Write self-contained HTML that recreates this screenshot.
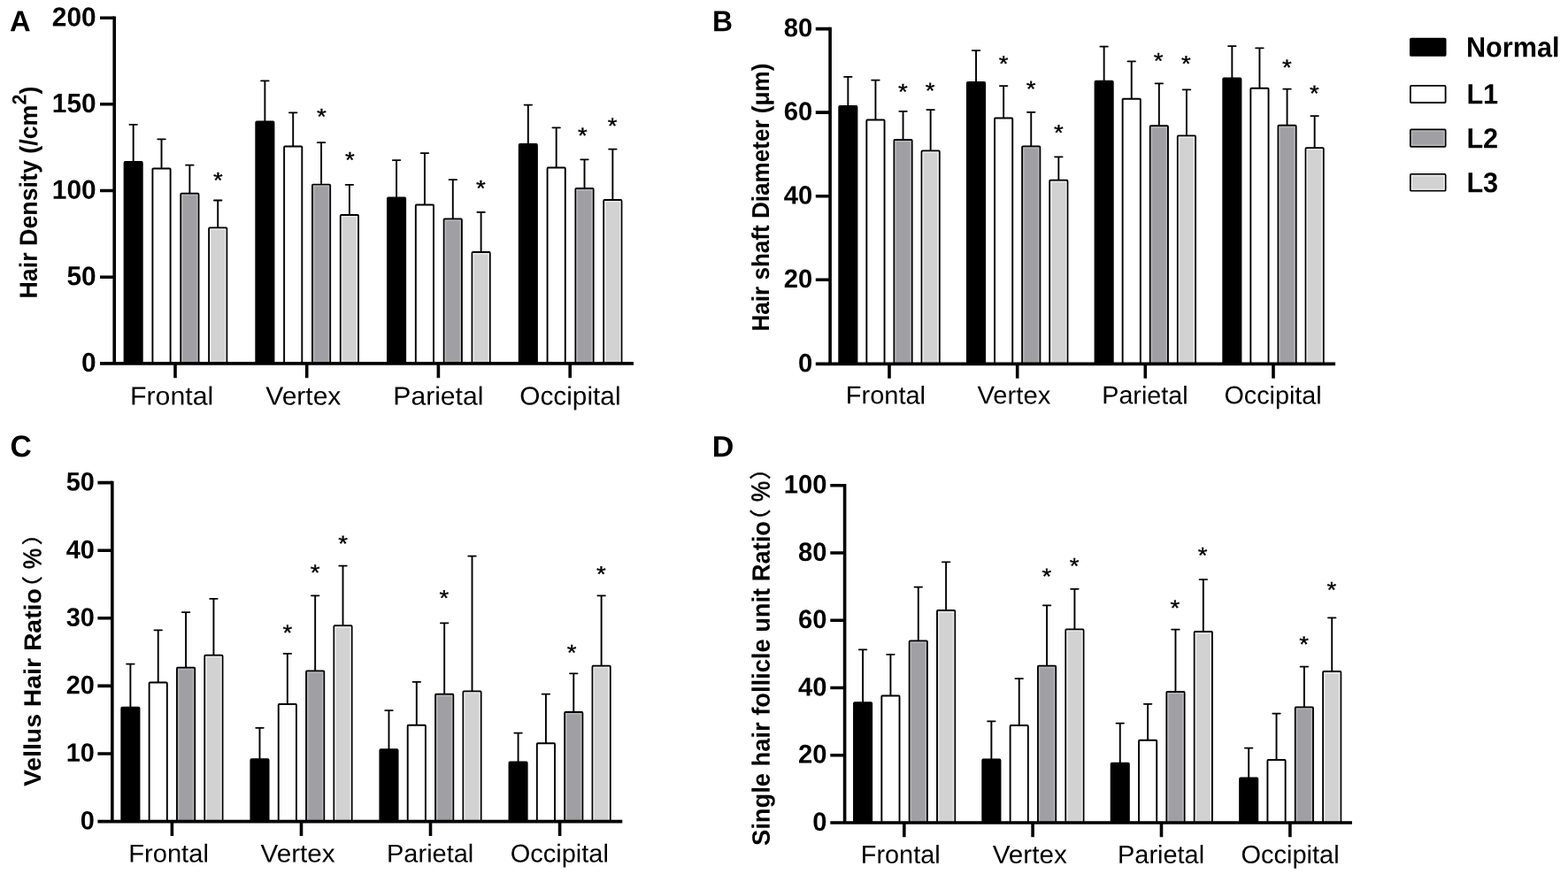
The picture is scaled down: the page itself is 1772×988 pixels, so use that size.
<!DOCTYPE html>
<html lang="en">
<head>
<meta charset="utf-8">
<title>Hair Density, Hair shaft Diameter, Vellus Hair Ratio, Single hair follicle unit Ratio</title>
<style>
html,body{margin:0;padding:0;background:#fff;}
body{width:1772px;height:988px;overflow:hidden;}
svg{display:block;}
text{font-family:"Liberation Sans","Noto Sans CJK SC",sans-serif;fill:#000;}
.pl,.yl,.tk,.lt{font-weight:bold;}
.yp{font-family:"Noto Sans CJK SC","Liberation Sans",sans-serif;font-weight:normal;stroke:#000;stroke-width:0.55;}
.ypc{stroke:#000;stroke-width:0.7;}
.axis{stroke:#000;stroke-width:3.6;fill:none;}
.bar{stroke:#000;stroke-width:1.9;stroke-linejoin:round;}
.lb{stroke:#000;stroke-width:1.8;stroke-linejoin:round;}
.err{stroke:#000;stroke-width:1.9;fill:none;stroke-linecap:round;}
.band{fill:none;stroke-width:1.5;}
.st{stroke:#000;stroke-width:0.35;}
</style>
</head>
<body>
<svg width="1772" height="988" viewBox="0 0 1772 988">
<rect width="1772" height="988" fill="#fff"/>
<g id="panel-A">
<text class="pl" font-size="33" transform="translate(10.99 35.2) rotate(0.03) scale(0.9919 1)">A</text>
<text class="yl" font-size="28.02" transform="translate(41.8 337.48) rotate(-89.97) scale(0.9570 1)">Hair Density (/cm<tspan font-size="22.41" dy="-12.33">2</tspan><tspan font-size="28.02" dy="12.33">)</tspan></text>
<g>
<path class="err" d="M146.42 140.85H154.92M150.67 140.85V183.05"/>
<rect class="bar" x="140.57" y="183.05" width="20.2" height="227.85" rx="0.9" fill="#000000"/>
<path class="err" d="M178.27 157.35H186.77M182.52 157.35V190.55"/>
<rect class="bar" x="172.42" y="190.55" width="20.2" height="220.35" rx="0.9" fill="#ffffff"/>
<path class="err" d="M210.12 186.65H218.62M214.38 186.65V218.75"/>
<rect class="bar" x="204.28" y="218.75" width="20.2" height="192.15" rx="0.9" fill="#a0a0a4"/>
<rect class="band" x="205.97" y="220.45" width="16.8" height="190.45" stroke="#b6b6ba"/>
<path class="err" d="M241.97 226.55H250.47M246.22 226.55V257.55"/>
<rect class="bar" x="236.12" y="257.55" width="20.2" height="153.35" rx="0.9" fill="#d2d2d2"/>
<rect class="band" x="237.82" y="259.25" width="16.8" height="151.65" stroke="#e8e8e8"/>
</g>
<g>
<path class="err" d="M295.12 91.35H303.62M299.38 91.35V137.55"/>
<rect class="bar" x="289.27" y="137.55" width="20.2" height="273.35" rx="0.9" fill="#000000"/>
<path class="err" d="M326.97 127.35H335.47M331.22 127.35V165.55"/>
<rect class="bar" x="321.12" y="165.55" width="20.2" height="245.35" rx="0.9" fill="#ffffff"/>
<path class="err" d="M358.82 161.15H367.32M363.07 161.15V208.65"/>
<rect class="bar" x="352.97" y="208.65" width="20.2" height="202.25" rx="0.9" fill="#a0a0a4"/>
<rect class="band" x="354.67" y="210.35" width="16.8" height="200.55" stroke="#b6b6ba"/>
<path class="err" d="M390.67 208.85H399.17M394.92 208.85V243.05"/>
<rect class="bar" x="384.82" y="243.05" width="20.2" height="167.85" rx="0.9" fill="#d2d2d2"/>
<rect class="band" x="386.52" y="244.75" width="16.8" height="166.15" stroke="#e8e8e8"/>
</g>
<g>
<path class="err" d="M443.83 181.1H452.33M448.08 181.1V223.55"/>
<rect class="bar" x="437.98" y="223.55" width="20.2" height="187.35" rx="0.9" fill="#000000"/>
<path class="err" d="M475.68 173.1H484.18M479.93 173.1V231.55"/>
<rect class="bar" x="469.82" y="231.55" width="20.2" height="179.35" rx="0.9" fill="#ffffff"/>
<path class="err" d="M507.53 203.1H516.03M511.78 203.1V247.55"/>
<rect class="bar" x="501.68" y="247.55" width="20.2" height="163.35" rx="0.9" fill="#a0a0a4"/>
<rect class="band" x="503.38" y="249.25" width="16.8" height="161.65" stroke="#b6b6ba"/>
<path class="err" d="M539.38 239.85H547.88M543.62 239.85V285.05"/>
<rect class="bar" x="533.52" y="285.05" width="20.2" height="125.85" rx="0.9" fill="#d2d2d2"/>
<rect class="band" x="535.23" y="286.75" width="16.8" height="124.15" stroke="#e8e8e8"/>
</g>
<g>
<path class="err" d="M592.58 118.6H601.08M596.83 118.6V163.05"/>
<rect class="bar" x="586.73" y="163.05" width="20.2" height="247.85" rx="0.9" fill="#000000"/>
<path class="err" d="M624.43 144.35H632.93M628.68 144.35V189.55"/>
<rect class="bar" x="618.58" y="189.55" width="20.2" height="221.35" rx="0.9" fill="#ffffff"/>
<path class="err" d="M656.27 180.35H664.77M660.52 180.35V213.05"/>
<rect class="bar" x="650.42" y="213.05" width="20.2" height="197.85" rx="0.9" fill="#a0a0a4"/>
<rect class="band" x="652.12" y="214.75" width="16.8" height="196.15" stroke="#b6b6ba"/>
<path class="err" d="M688.12 168.6H696.62M692.38 168.6V226.05"/>
<rect class="bar" x="682.27" y="226.05" width="20.2" height="184.85" rx="0.9" fill="#d2d2d2"/>
<rect class="band" x="683.98" y="227.75" width="16.8" height="183.15" stroke="#e8e8e8"/>
</g>
<text class="st" font-size="25.6" transform="translate(240.97 212.4) rotate(0.03) scale(1.0761 1)">*</text>
<text class="st" font-size="25.6" transform="translate(358.12 140.5) rotate(0.03) scale(1.0761 1)">*</text>
<text class="st" font-size="25.6" transform="translate(390.12 189.4) rotate(0.03) scale(1.0761 1)">*</text>
<text class="st" font-size="25.6" transform="translate(538.12 221.6) rotate(0.03) scale(1.0761 1)">*</text>
<text class="st" font-size="25.6" transform="translate(653.12 162.1) rotate(0.03) scale(1.0761 1)">*</text>
<text class="st" font-size="25.6" transform="translate(686.87 151.1) rotate(0.03) scale(1.0761 1)">*</text>
<path class="axis" d="M129.2 18.5V410.9M113 410.9H716"/>
<path class="axis" d="M113 313.2H129.2M113 215.5H129.2M113 117.8H129.2M113 20.3H129.2M198 410.9V427.3M346.7 410.9V427.3M495.4 410.9V427.3M644.2 410.9V427.3"/>
<text class="tk" font-size="30.47" transform="translate(92.05 420.07) rotate(0.03) scale(0.9805 1)">0</text>
<text class="tk" font-size="30.47" transform="translate(75.43 322.37) rotate(0.03) scale(0.9805 1)">50</text>
<text class="tk" font-size="30.47" transform="translate(58.82 224.67) rotate(0.03) scale(0.9805 1)">100</text>
<text class="tk" font-size="30.47" transform="translate(58.82 126.97) rotate(0.03) scale(0.9805 1)">150</text>
<text class="tk" font-size="30.47" transform="translate(58.82 29.47) rotate(0.03) scale(0.9805 1)">200</text>
<text class="xl" font-size="29.07" transform="translate(146.93 457.45) rotate(0.03) scale(1.0426 1)">Frontal</text>
<text class="xl" font-size="29.07" transform="translate(300.3 457.45) rotate(0.03) scale(1.0327 1)">Vertex</text>
<text class="xl" font-size="29.07" transform="translate(444.35 457.45) rotate(0.03) scale(1.0353 1)">Parietal</text>
<text class="xl" font-size="29.07" transform="translate(587.2 457.45) rotate(0.03) scale(1.0261 1)">Occipital</text>
</g>
<g id="panel-B">
<text class="pl" font-size="33.14" transform="translate(805.01 35.3) rotate(0.03) scale(0.9608 1)">B</text>
<text class="yl" font-size="27.45" transform="translate(868.9 374.53) rotate(-89.97) scale(0.9503 1)">Hair shaft Diameter (μm)</text>
<g>
<path class="err" d="M954.1 86.85H962.6M958.35 86.85V120.05"/>
<rect class="bar" x="948.25" y="120.05" width="20.2" height="291.35" rx="0.9" fill="#000000"/>
<path class="err" d="M985.2 90.6H993.7M989.45 90.6V135.55"/>
<rect class="bar" x="979.35" y="135.55" width="20.2" height="275.85" rx="0.9" fill="#ffffff"/>
<path class="err" d="M1016.3 125.85H1024.8M1020.55 125.85V158.05"/>
<rect class="bar" x="1010.45" y="158.05" width="20.2" height="253.35" rx="0.9" fill="#a0a0a4"/>
<rect class="band" x="1012.15" y="159.75" width="16.8" height="251.65" stroke="#b6b6ba"/>
<path class="err" d="M1047.4 124.1H1055.9M1051.65 124.1V170.55"/>
<rect class="bar" x="1041.55" y="170.55" width="20.2" height="240.85" rx="0.9" fill="#d2d2d2"/>
<rect class="band" x="1043.25" y="172.25" width="16.8" height="239.15" stroke="#e8e8e8"/>
</g>
<g>
<path class="err" d="M1098.8 57.1H1107.3M1103.05 57.1V93.05"/>
<rect class="bar" x="1092.95" y="93.05" width="20.2" height="318.35" rx="0.9" fill="#000000"/>
<path class="err" d="M1129.9 97.1H1138.4M1134.15 97.1V133.55"/>
<rect class="bar" x="1124.05" y="133.55" width="20.2" height="277.85" rx="0.9" fill="#ffffff"/>
<path class="err" d="M1161 126.85H1169.5M1165.25 126.85V165.55"/>
<rect class="bar" x="1155.15" y="165.55" width="20.2" height="245.85" rx="0.9" fill="#a0a0a4"/>
<rect class="band" x="1156.85" y="167.25" width="16.8" height="244.15" stroke="#b6b6ba"/>
<path class="err" d="M1192.1 177.35H1200.6M1196.35 177.35V203.8"/>
<rect class="bar" x="1186.25" y="203.8" width="20.2" height="207.6" rx="0.9" fill="#d2d2d2"/>
<rect class="band" x="1187.95" y="205.5" width="16.8" height="205.9" stroke="#e8e8e8"/>
</g>
<g>
<path class="err" d="M1243.4 52.6H1251.9M1247.65 52.6V91.8"/>
<rect class="bar" x="1237.55" y="91.8" width="20.2" height="319.6" rx="0.9" fill="#000000"/>
<path class="err" d="M1274.5 69.35H1283M1278.75 69.35V111.8"/>
<rect class="bar" x="1268.65" y="111.8" width="20.2" height="299.6" rx="0.9" fill="#ffffff"/>
<path class="err" d="M1305.6 94.35H1314.1M1309.85 94.35V142.3"/>
<rect class="bar" x="1299.75" y="142.3" width="20.2" height="269.1" rx="0.9" fill="#a0a0a4"/>
<rect class="band" x="1301.45" y="144" width="16.8" height="267.4" stroke="#b6b6ba"/>
<path class="err" d="M1336.7 101.35H1345.2M1340.95 101.35V153.55"/>
<rect class="bar" x="1330.85" y="153.55" width="20.2" height="257.85" rx="0.9" fill="#d2d2d2"/>
<rect class="band" x="1332.55" y="155.25" width="16.8" height="256.15" stroke="#e8e8e8"/>
</g>
<g>
<path class="err" d="M1388.1 52.1H1396.6M1392.35 52.1V88.55"/>
<rect class="bar" x="1382.25" y="88.55" width="20.2" height="322.85" rx="0.9" fill="#000000"/>
<path class="err" d="M1419.2 54.35H1427.7M1423.45 54.35V99.8"/>
<rect class="bar" x="1413.35" y="99.8" width="20.2" height="311.6" rx="0.9" fill="#ffffff"/>
<path class="err" d="M1450.3 100.6H1458.8M1454.55 100.6V141.8"/>
<rect class="bar" x="1444.45" y="141.8" width="20.2" height="269.6" rx="0.9" fill="#a0a0a4"/>
<rect class="band" x="1446.15" y="143.5" width="16.8" height="267.9" stroke="#b6b6ba"/>
<path class="err" d="M1481.4 131.1H1489.9M1485.65 131.1V167.3"/>
<rect class="bar" x="1475.55" y="167.3" width="20.2" height="244.1" rx="0.9" fill="#d2d2d2"/>
<rect class="band" x="1477.25" y="169" width="16.8" height="242.4" stroke="#e8e8e8"/>
</g>
<text class="st" font-size="25.6" transform="translate(1015.12 112.6) rotate(0.03) scale(1.0761 1)">*</text>
<text class="st" font-size="25.6" transform="translate(1045.87 111.35) rotate(0.03) scale(1.0761 1)">*</text>
<text class="st" font-size="25.6" transform="translate(1128.87 80.85) rotate(0.03) scale(1.0761 1)">*</text>
<text class="st" font-size="25.6" transform="translate(1159.87 109.35) rotate(0.03) scale(1.0761 1)">*</text>
<text class="st" font-size="25.6" transform="translate(1191.12 158.85) rotate(0.03) scale(1.0761 1)">*</text>
<text class="st" font-size="25.6" transform="translate(1303.87 77.6) rotate(0.03) scale(1.0761 1)">*</text>
<text class="st" font-size="25.6" transform="translate(1335.12 80.85) rotate(0.03) scale(1.0761 1)">*</text>
<text class="st" font-size="25.6" transform="translate(1449.12 85.1) rotate(0.03) scale(1.0761 1)">*</text>
<text class="st" font-size="25.6" transform="translate(1480.12 114.35) rotate(0.03) scale(1.0761 1)">*</text>
<path class="axis" d="M938.1 30.8V411.4M921.8 411.4H1509.1"/>
<path class="axis" d="M921.8 316.3H938.1M921.8 221.7H938.1M921.8 127.1H938.1M921.8 32.6H938.1M1005 411.4V427.7M1149.7 411.4V427.7M1294.3 411.4V427.7M1439 411.4V427.7"/>
<text class="tk" font-size="29.22" transform="translate(902.04 420.14) rotate(0.03) scale(1.0000 1)">0</text>
<text class="tk" font-size="29.22" transform="translate(885.79 325.04) rotate(0.03) scale(1.0000 1)">20</text>
<text class="tk" font-size="29.22" transform="translate(885.79 230.44) rotate(0.03) scale(1.0000 1)">40</text>
<text class="tk" font-size="29.22" transform="translate(885.79 135.84) rotate(0.03) scale(1.0000 1)">60</text>
<text class="tk" font-size="29.22" transform="translate(885.79 41.34) rotate(0.03) scale(1.0000 1)">80</text>
<text class="xl" font-size="28.27" transform="translate(955.73 456.36) rotate(0.03) scale(1.0274 1)">Frontal</text>
<text class="xl" font-size="28.27" transform="translate(1104.4 456.36) rotate(0.03) scale(1.0345 1)">Vertex</text>
<text class="xl" font-size="28.27" transform="translate(1245.26 456.36) rotate(0.03) scale(1.0156 1)">Parietal</text>
<text class="xl" font-size="28.27" transform="translate(1383.45 456.36) rotate(0.03) scale(1.0171 1)">Occipital</text>
</g>
<g id="panel-C">
<text class="pl" font-size="34.37" transform="translate(11.45 516.36) rotate(0.03) scale(0.9788 1)">C</text>
<text class="yl" font-size="27.09" transform="translate(46.05 889.1) rotate(-89.97) scale(1.0478 1)">Vellus Hair Ratio</text>
<text class="yp" font-size="23.33" transform="translate(45.05 677.34) rotate(-89.97) scale(1.1126 1)">（</text>
<text class="ypc" font-size="28.38" transform="translate(46.26 643.22) rotate(-89.97) scale(0.9232 1)">%</text>
<text class="yp" font-size="23.33" transform="translate(45.05 616.2) rotate(-89.97) scale(1.0973 1)">）</text>
<g>
<path class="err" d="M143.12 750.6H151.62M147.38 750.6V799.8"/>
<rect class="bar" x="137.28" y="799.8" width="20.2" height="128.8" rx="0.9" fill="#000000"/>
<path class="err" d="M174.47 712.35H182.97M178.72 712.35V771.55"/>
<rect class="bar" x="168.62" y="771.55" width="20.2" height="157.05" rx="0.9" fill="#ffffff"/>
<path class="err" d="M205.83 692.1H214.33M210.08 692.1V754.8"/>
<rect class="bar" x="199.98" y="754.8" width="20.2" height="173.8" rx="0.9" fill="#a0a0a4"/>
<rect class="band" x="201.68" y="756.5" width="16.8" height="172.1" stroke="#b6b6ba"/>
<path class="err" d="M237.18 676.85H245.68M241.43 676.85V740.8"/>
<rect class="bar" x="231.33" y="740.8" width="20.2" height="187.8" rx="0.9" fill="#d2d2d2"/>
<rect class="band" x="233.03" y="742.5" width="16.8" height="186.1" stroke="#e8e8e8"/>
</g>
<g>
<path class="err" d="M289.23 822.85H297.73M293.48 822.85V858.3"/>
<rect class="bar" x="283.38" y="858.3" width="20.2" height="70.3" rx="0.9" fill="#000000"/>
<path class="err" d="M320.57 738.85H329.07M324.82 738.85V796.05"/>
<rect class="bar" x="314.72" y="796.05" width="20.2" height="132.55" rx="0.9" fill="#ffffff"/>
<path class="err" d="M351.93 673.35H360.43M356.18 673.35V758.55"/>
<rect class="bar" x="346.07" y="758.55" width="20.2" height="170.05" rx="0.9" fill="#a0a0a4"/>
<rect class="band" x="347.77" y="760.25" width="16.8" height="168.35" stroke="#b6b6ba"/>
<path class="err" d="M383.27 639.6H391.77M387.52 639.6V707.3"/>
<rect class="bar" x="377.42" y="707.3" width="20.2" height="221.3" rx="0.9" fill="#d2d2d2"/>
<rect class="band" x="379.12" y="709" width="16.8" height="219.6" stroke="#e8e8e8"/>
</g>
<g>
<path class="err" d="M435.23 803.1H443.73M439.48 803.1V847.3"/>
<rect class="bar" x="429.38" y="847.3" width="20.2" height="81.3" rx="0.9" fill="#000000"/>
<path class="err" d="M466.57 770.85H475.07M470.82 770.85V819.8"/>
<rect class="bar" x="460.72" y="819.8" width="20.2" height="108.8" rx="0.9" fill="#ffffff"/>
<path class="err" d="M497.93 704.35H506.43M502.18 704.35V784.8"/>
<rect class="bar" x="492.07" y="784.8" width="20.2" height="143.8" rx="0.9" fill="#a0a0a4"/>
<rect class="band" x="493.77" y="786.5" width="16.8" height="142.1" stroke="#b6b6ba"/>
<path class="err" d="M529.27 628.6H537.77M533.52 628.6V781.55"/>
<rect class="bar" x="523.42" y="781.55" width="20.2" height="147.05" rx="0.9" fill="#d2d2d2"/>
<rect class="band" x="525.12" y="783.25" width="16.8" height="145.35" stroke="#e8e8e8"/>
</g>
<g>
<path class="err" d="M581.33 828.6H589.83M585.58 828.6V861.55"/>
<rect class="bar" x="575.48" y="861.55" width="20.2" height="67.05" rx="0.9" fill="#000000"/>
<path class="err" d="M612.68 784.6H621.18M616.93 784.6V840.3"/>
<rect class="bar" x="606.83" y="840.3" width="20.2" height="88.3" rx="0.9" fill="#ffffff"/>
<path class="err" d="M644.02 761.35H652.52M648.27 761.35V805.05"/>
<rect class="bar" x="638.17" y="805.05" width="20.2" height="123.55" rx="0.9" fill="#a0a0a4"/>
<rect class="band" x="639.88" y="806.75" width="16.8" height="121.85" stroke="#b6b6ba"/>
<path class="err" d="M675.38 673.35H683.88M679.62 673.35V752.8"/>
<rect class="bar" x="669.52" y="752.8" width="20.2" height="175.8" rx="0.9" fill="#d2d2d2"/>
<rect class="band" x="671.23" y="754.5" width="16.8" height="174.1" stroke="#e8e8e8"/>
</g>
<text class="st" font-size="25.6" transform="translate(319.62 724.1) rotate(0.03) scale(1.0761 1)">*</text>
<text class="st" font-size="25.6" transform="translate(350.87 656.1) rotate(0.03) scale(1.0761 1)">*</text>
<text class="st" font-size="25.6" transform="translate(382.37 623.35) rotate(0.03) scale(1.0761 1)">*</text>
<text class="st" font-size="25.6" transform="translate(496.62 684.85) rotate(0.03) scale(1.0761 1)">*</text>
<text class="st" font-size="25.6" transform="translate(640.87 746.6) rotate(0.03) scale(1.0761 1)">*</text>
<text class="st" font-size="25.6" transform="translate(674.12 657.85) rotate(0.03) scale(1.0761 1)">*</text>
<path class="axis" d="M126.8 543.85V928.6M110.4 928.6H703.3"/>
<path class="axis" d="M110.4 852H126.8M110.4 775.4H126.8M110.4 698.8H126.8M110.4 622.3H126.8M110.4 545.65H126.8M194.4 928.6V944.9M340.5 928.6V944.9M486.5 928.6V944.9M632.6 928.6V944.9"/>
<text class="tk" font-size="29.5" transform="translate(90.81 937.44) rotate(0.03) scale(0.9791 1)">0</text>
<text class="tk" font-size="29.5" transform="translate(74.75 860.84) rotate(0.03) scale(0.9791 1)">10</text>
<text class="tk" font-size="29.5" transform="translate(74.75 784.24) rotate(0.03) scale(0.9791 1)">20</text>
<text class="tk" font-size="29.5" transform="translate(74.75 707.64) rotate(0.03) scale(0.9791 1)">30</text>
<text class="tk" font-size="29.5" transform="translate(74.75 631.14) rotate(0.03) scale(0.9791 1)">40</text>
<text class="tk" font-size="29.5" transform="translate(74.75 554.49) rotate(0.03) scale(0.9791 1)">50</text>
<text class="xl" font-size="28.53" transform="translate(145.22 974.45) rotate(0.03) scale(1.0213 1)">Frontal</text>
<text class="xl" font-size="28.53" transform="translate(294.5 974.45) rotate(0.03) scale(1.0397 1)">Vertex</text>
<text class="xl" font-size="28.53" transform="translate(437.04 974.45) rotate(0.03) scale(1.0158 1)">Parietal</text>
<text class="xl" font-size="28.53" transform="translate(576.64 974.45) rotate(0.03) scale(1.0170 1)">Occipital</text>
</g>
<g id="panel-D">
<text class="pl" font-size="33.56" transform="translate(804.67 516.3) rotate(0.03) scale(1.0154 1)">D</text>
<text class="yl" font-size="28.16" transform="translate(869.7 955.93) rotate(-89.97) scale(0.9696 1)">Single hair follicle unit Ratio</text>
<text class="yp" font-size="23.85" transform="translate(868.09 601.44) rotate(-89.97) scale(1.0885 1)">（</text>
<text class="ypc" font-size="28.94" transform="translate(869.55 567.22) rotate(-89.97) scale(0.9055 1)">%</text>
<text class="yp" font-size="23.85" transform="translate(868.09 542.2) rotate(-89.97) scale(1.0736 1)">）</text>
<g>
<path class="err" d="M970.83 734.35H979.33M975.08 734.35V794.3"/>
<rect class="bar" x="964.98" y="794.3" width="20.2" height="135.7" rx="0.9" fill="#000000"/>
<path class="err" d="M1002.18 739.85H1010.68M1006.43 739.85V786.55"/>
<rect class="bar" x="996.33" y="786.55" width="20.2" height="143.45" rx="0.9" fill="#ffffff"/>
<path class="err" d="M1033.53 663.6H1042.03M1037.78 663.6V724.55"/>
<rect class="bar" x="1027.68" y="724.55" width="20.2" height="205.45" rx="0.9" fill="#a0a0a4"/>
<rect class="band" x="1029.38" y="726.25" width="16.8" height="203.75" stroke="#b6b6ba"/>
<path class="err" d="M1064.88 635.35H1073.38M1069.12 635.35V690.05"/>
<rect class="bar" x="1059.03" y="690.05" width="20.2" height="239.95" rx="0.9" fill="#d2d2d2"/>
<rect class="band" x="1060.73" y="691.75" width="16.8" height="238.25" stroke="#e8e8e8"/>
</g>
<g>
<path class="err" d="M1116.12 815.35H1124.62M1120.38 815.35V858.55"/>
<rect class="bar" x="1110.28" y="858.55" width="20.2" height="71.45" rx="0.9" fill="#000000"/>
<path class="err" d="M1147.48 767.1H1155.98M1151.73 767.1V820.05"/>
<rect class="bar" x="1141.63" y="820.05" width="20.2" height="109.95" rx="0.9" fill="#ffffff"/>
<path class="err" d="M1178.83 684.35H1187.33M1183.08 684.35V752.8"/>
<rect class="bar" x="1172.98" y="752.8" width="20.2" height="177.2" rx="0.9" fill="#a0a0a4"/>
<rect class="band" x="1174.68" y="754.5" width="16.8" height="175.5" stroke="#b6b6ba"/>
<path class="err" d="M1210.18 665.85H1218.68M1214.43 665.85V711.55"/>
<rect class="bar" x="1204.33" y="711.55" width="20.2" height="218.45" rx="0.9" fill="#d2d2d2"/>
<rect class="band" x="1206.03" y="713.25" width="16.8" height="216.75" stroke="#e8e8e8"/>
</g>
<g>
<path class="err" d="M1261.52 817.6H1270.02M1265.77 817.6V862.8"/>
<rect class="bar" x="1255.67" y="862.8" width="20.2" height="67.2" rx="0.9" fill="#000000"/>
<path class="err" d="M1292.88 795.85H1301.38M1297.12 795.85V836.8"/>
<rect class="bar" x="1287.03" y="836.8" width="20.2" height="93.2" rx="0.9" fill="#ffffff"/>
<path class="err" d="M1324.22 711.6H1332.72M1328.47 711.6V782.05"/>
<rect class="bar" x="1318.38" y="782.05" width="20.2" height="147.95" rx="0.9" fill="#a0a0a4"/>
<rect class="band" x="1320.08" y="783.75" width="16.8" height="146.25" stroke="#b6b6ba"/>
<path class="err" d="M1355.58 655.1H1364.08M1359.83 655.1V714.05"/>
<rect class="bar" x="1349.73" y="714.05" width="20.2" height="215.95" rx="0.9" fill="#d2d2d2"/>
<rect class="band" x="1351.43" y="715.75" width="16.8" height="214.25" stroke="#e8e8e8"/>
</g>
<g>
<path class="err" d="M1406.92 845.6H1415.42M1411.17 845.6V879.55"/>
<rect class="bar" x="1401.08" y="879.55" width="20.2" height="50.45" rx="0.9" fill="#000000"/>
<path class="err" d="M1438.28 806.6H1446.78M1442.53 806.6V859.05"/>
<rect class="bar" x="1432.43" y="859.05" width="20.2" height="70.95" rx="0.9" fill="#ffffff"/>
<path class="err" d="M1469.62 753.6H1478.12M1473.88 753.6V799.55"/>
<rect class="bar" x="1463.78" y="799.55" width="20.2" height="130.45" rx="0.9" fill="#a0a0a4"/>
<rect class="band" x="1465.48" y="801.25" width="16.8" height="128.75" stroke="#b6b6ba"/>
<path class="err" d="M1500.98 698.35H1509.48M1505.23 698.35V759.05"/>
<rect class="bar" x="1495.13" y="759.05" width="20.2" height="170.95" rx="0.9" fill="#d2d2d2"/>
<rect class="band" x="1496.83" y="760.75" width="16.8" height="169.25" stroke="#e8e8e8"/>
</g>
<text class="st" font-size="25.6" transform="translate(1177.62 660.35) rotate(0.03) scale(1.0761 1)">*</text>
<text class="st" font-size="25.6" transform="translate(1208.87 648.6) rotate(0.03) scale(1.0761 1)">*</text>
<text class="st" font-size="25.6" transform="translate(1322.62 696.1) rotate(0.03) scale(1.0761 1)">*</text>
<text class="st" font-size="25.6" transform="translate(1353.87 636.6) rotate(0.03) scale(1.0761 1)">*</text>
<text class="st" font-size="25.6" transform="translate(1468.37 737.1) rotate(0.03) scale(1.0761 1)">*</text>
<text class="st" font-size="25.6" transform="translate(1499.62 675.6) rotate(0.03) scale(1.0761 1)">*</text>
<path class="axis" d="M954.6 546.9V930M938.3 930H1528"/>
<path class="axis" d="M938.3 853.7H954.6M938.3 777.5H954.6M938.3 701.2H954.6M938.3 625H954.6M938.3 548.7H954.6M1021.8 930V946.2M1167.1 930V946.2M1312.5 930V946.2M1457.9 930V946.2"/>
<text class="tk" font-size="29.63" transform="translate(918.19 938.89) rotate(0.03) scale(0.9859 1)">0</text>
<text class="tk" font-size="29.63" transform="translate(901.94 862.59) rotate(0.03) scale(0.9859 1)">20</text>
<text class="tk" font-size="29.63" transform="translate(901.94 786.39) rotate(0.03) scale(0.9859 1)">40</text>
<text class="tk" font-size="29.63" transform="translate(901.94 710.09) rotate(0.03) scale(0.9859 1)">60</text>
<text class="tk" font-size="29.63" transform="translate(901.94 633.89) rotate(0.03) scale(0.9859 1)">80</text>
<text class="tk" font-size="29.63" transform="translate(885.69 557.59) rotate(0.03) scale(0.9859 1)">100</text>
<text class="xl" font-size="28.67" transform="translate(972.74 975.65) rotate(0.03) scale(1.0083 1)">Frontal</text>
<text class="xl" font-size="28.67" transform="translate(1121.7 975.65) rotate(0.03) scale(1.0348 1)">Vertex</text>
<text class="xl" font-size="28.67" transform="translate(1263.04 975.65) rotate(0.03) scale(1.0089 1)">Parietal</text>
<text class="xl" font-size="28.67" transform="translate(1402.39 975.65) rotate(0.03) scale(1.0118 1)">Occipital</text>
</g>
<g id="legend">
<rect class="lb" x="1593.9" y="43.6" width="39.7" height="19.3" rx="1" fill="#000000"/>
<text class="lt" font-size="31.86" transform="translate(1656.99 64.3) rotate(0.03) scale(0.9614 1)">Normal</text>
<rect class="lb" x="1593.9" y="96.9" width="39.7" height="19.1" rx="1" fill="#ffffff"/>
<text class="lt" font-size="31.86" transform="translate(1657.39 117.3) rotate(0.03) scale(0.9614 1)">L1</text>
<rect class="lb" x="1593.9" y="146.5" width="39.7" height="19.3" rx="1" fill="#a0a0a4"/>
<rect class="band" x="1595.55" y="148.15" width="36.4" height="16" stroke="#b6b6ba"/>
<text class="lt" font-size="31.86" transform="translate(1657.39 167.2) rotate(0.03) scale(0.9614 1)">L2</text>
<rect class="lb" x="1593.9" y="196.9" width="39.7" height="18.8" rx="1" fill="#d2d2d2"/>
<rect class="band" x="1595.55" y="198.55" width="36.4" height="15.5" stroke="#e8e8e8"/>
<text class="lt" font-size="31.86" transform="translate(1657.39 217.2) rotate(0.03) scale(0.9614 1)">L3</text>
</g>
</svg>
</body>
</html>
